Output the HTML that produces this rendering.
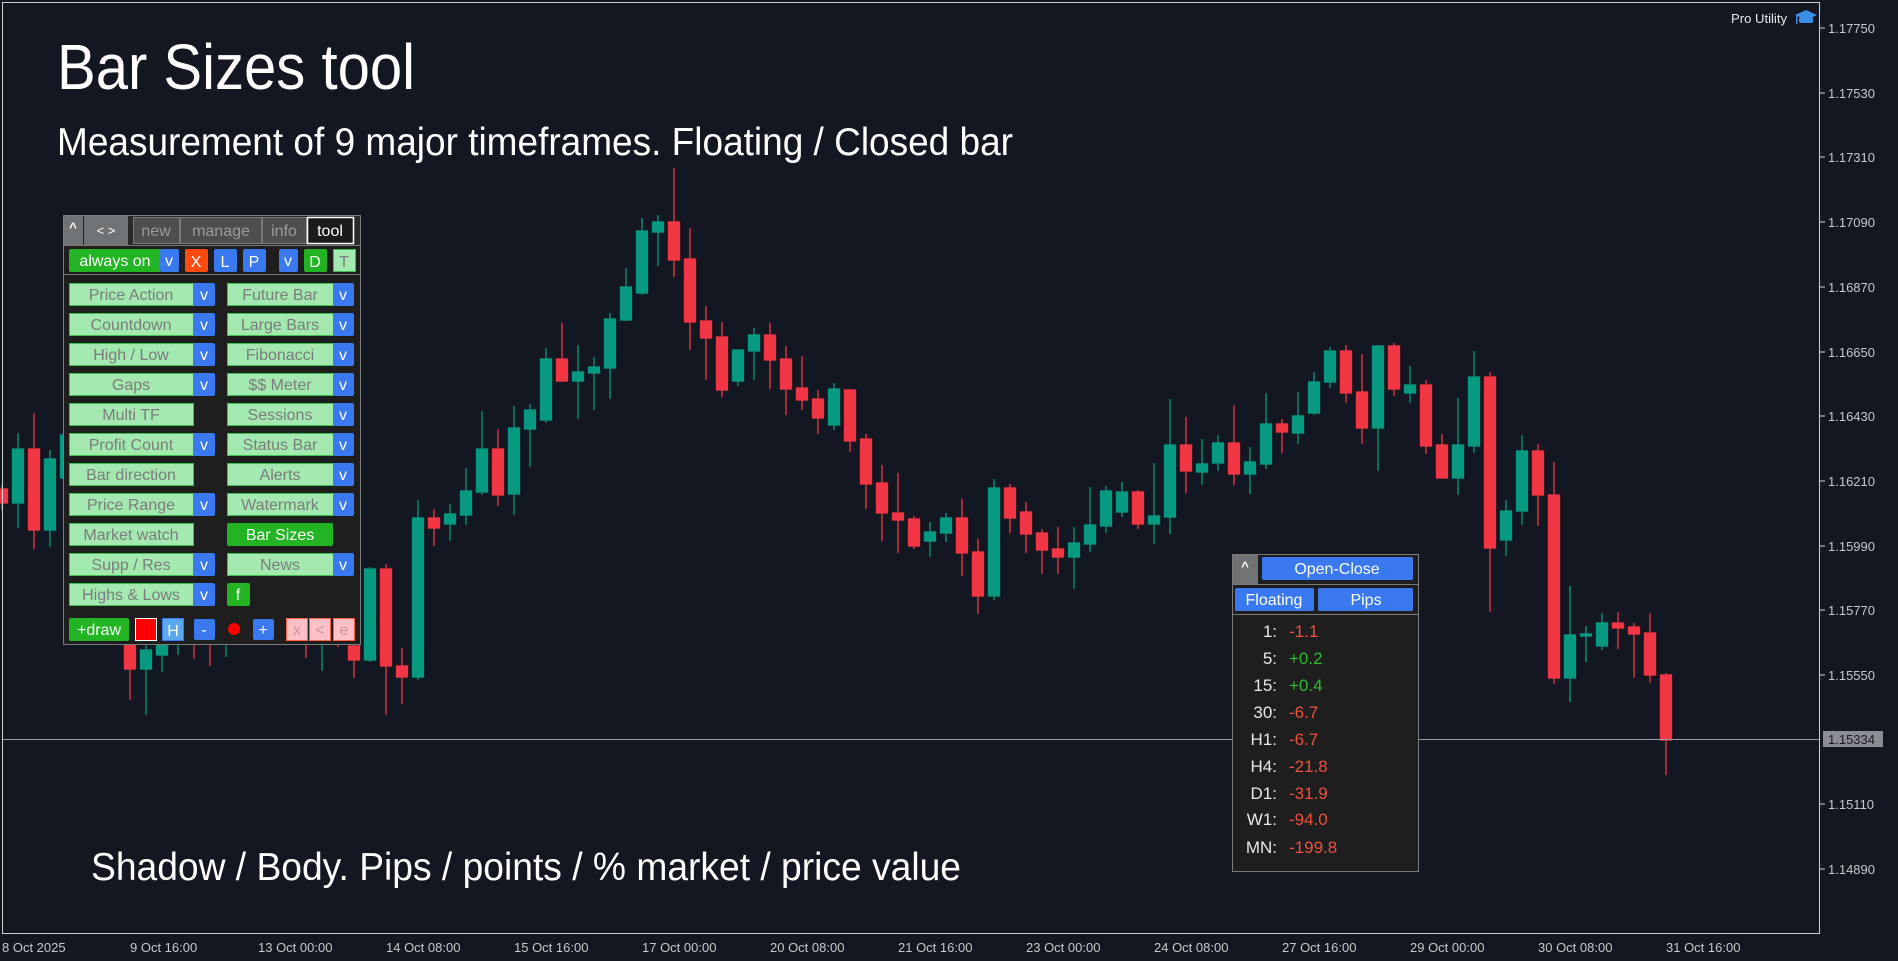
<!DOCTYPE html>
<html><head><meta charset="utf-8"><style>
html,body{margin:0;padding:0;background:#131722;overflow:hidden}
svg{display:block}
text{font-family:"Liberation Sans",sans-serif}
.g{fill:#089981;stroke:#089981}.r{fill:#f23645;stroke:#f23645}
.ax{fill:#c8c8c8;font-size:13px}
.bt{fill:#7c7c7c;font-size:16px;text-anchor:middle}
.wt{fill:#fff;font-size:16px;text-anchor:middle}
.lg{fill:#a3e9b0;stroke:#3cc04a;stroke-width:1}
.bl{fill:#3a78f0}
.lb{fill:#e8e8e8;font-size:17px;text-anchor:end}
.vr{fill:#f0503c;font-size:17px}.vg{fill:#2cbc2c;font-size:17px}
</style></head><body>
<svg width="1898" height="961" viewBox="0 0 1898 961" xmlns="http://www.w3.org/2000/svg">
<rect width="1898" height="961" fill="#131722"/>
<g stroke-width="1.3">
<line class="r" x1="2" y1="485" x2="2" y2="510"/><rect class="r" x="-3.5" y="489" width="11" height="14"/>
<line class="g" x1="18" y1="433" x2="18" y2="528"/><rect class="g" x="12.5" y="449" width="11" height="54"/>
<line class="r" x1="34" y1="413" x2="34" y2="549"/><rect class="r" x="28.5" y="449" width="11" height="81"/>
<line class="g" x1="50" y1="450" x2="50" y2="547"/><rect class="g" x="44.5" y="459" width="11" height="71"/>
<line class="g" x1="66" y1="425" x2="66" y2="490"/><rect class="g" x="60.5" y="435" width="11" height="43"/>
<line class="r" x1="82" y1="420" x2="82" y2="600"/><rect class="r" x="76.5" y="440" width="11" height="150"/>
<line class="g" x1="98" y1="560" x2="98" y2="640"/><rect class="g" x="92.5" y="570" width="11" height="60"/>
<line class="r" x1="114" y1="570" x2="114" y2="645"/><rect class="r" x="108.5" y="580" width="11" height="60"/>
<line class="r" x1="130" y1="600" x2="130" y2="700"/><rect class="r" x="124.5" y="620" width="11" height="49"/>
<line class="g" x1="146" y1="610" x2="146" y2="715"/><rect class="g" x="140.5" y="650" width="11" height="19"/>
<line class="g" x1="162" y1="620" x2="162" y2="672"/><rect class="g" x="156.5" y="630" width="11" height="25"/>
<line class="g" x1="178" y1="610" x2="178" y2="655"/><rect class="g" x="172.5" y="620" width="11" height="20"/>
<line class="r" x1="194" y1="600" x2="194" y2="659"/><rect class="r" x="188.5" y="610" width="11" height="25"/>
<line class="r" x1="210" y1="600" x2="210" y2="666"/><rect class="r" x="204.5" y="615" width="11" height="25"/>
<line class="g" x1="226" y1="600" x2="226" y2="657"/><rect class="g" x="220.5" y="610" width="11" height="30"/>
<line class="r" x1="242" y1="590" x2="242" y2="640"/><rect class="r" x="236.5" y="600" width="11" height="30"/>
<line class="g" x1="258" y1="590" x2="258" y2="640"/><rect class="g" x="252.5" y="600" width="11" height="25"/>
<line class="r" x1="274" y1="585" x2="274" y2="640"/><rect class="r" x="268.5" y="595" width="11" height="25"/>
<line class="g" x1="290" y1="580" x2="290" y2="640"/><rect class="g" x="284.5" y="590" width="11" height="25"/>
<line class="r" x1="306" y1="590" x2="306" y2="658"/><rect class="r" x="300.5" y="600" width="11" height="40"/>
<line class="g" x1="322" y1="580" x2="322" y2="671"/><rect class="g" x="316.5" y="595" width="11" height="45"/>
<line class="r" x1="338" y1="580" x2="338" y2="647"/><rect class="r" x="332.5" y="595" width="11" height="45"/>
<line class="r" x1="354" y1="600" x2="354" y2="678"/><rect class="r" x="348.5" y="646" width="11" height="14"/>
<line class="g" x1="370" y1="567" x2="370" y2="662"/><rect class="g" x="364.5" y="569" width="11" height="91"/>
<line class="r" x1="386" y1="564" x2="386" y2="715"/><rect class="r" x="380.5" y="569" width="11" height="97"/>
<line class="r" x1="402" y1="648" x2="402" y2="704"/><rect class="r" x="396.5" y="666" width="11" height="11"/>
<line class="g" x1="418" y1="500" x2="418" y2="680"/><rect class="g" x="412.5" y="518" width="11" height="159"/>
<line class="r" x1="434" y1="509" x2="434" y2="546"/><rect class="r" x="428.5" y="518" width="11" height="10"/>
<line class="g" x1="450" y1="504" x2="450" y2="541"/><rect class="g" x="444.5" y="514" width="11" height="10"/>
<line class="g" x1="466" y1="468" x2="466" y2="525"/><rect class="g" x="460.5" y="491" width="11" height="24"/>
<line class="g" x1="482" y1="411" x2="482" y2="495"/><rect class="g" x="476.5" y="449" width="11" height="43"/>
<line class="r" x1="498" y1="429" x2="498" y2="506"/><rect class="r" x="492.5" y="449" width="11" height="46"/>
<line class="g" x1="514" y1="406" x2="514" y2="515"/><rect class="g" x="508.5" y="428" width="11" height="66"/>
<line class="g" x1="530" y1="404" x2="530" y2="467"/><rect class="g" x="524.5" y="410" width="11" height="19"/>
<line class="g" x1="546" y1="348" x2="546" y2="423"/><rect class="g" x="540.5" y="359" width="11" height="61"/>
<line class="r" x1="562" y1="323" x2="562" y2="382"/><rect class="r" x="556.5" y="359" width="11" height="22"/>
<line class="g" x1="578" y1="345" x2="578" y2="419"/><rect class="g" x="572.5" y="372" width="11" height="9"/>
<line class="g" x1="594" y1="357" x2="594" y2="410"/><rect class="g" x="588.5" y="367" width="11" height="6"/>
<line class="g" x1="610" y1="313" x2="610" y2="399"/><rect class="g" x="604.5" y="319" width="11" height="49"/>
<line class="g" x1="626" y1="268" x2="626" y2="321"/><rect class="g" x="620.5" y="287" width="11" height="33"/>
<line class="g" x1="642" y1="218" x2="642" y2="295"/><rect class="g" x="636.5" y="231" width="11" height="62"/>
<line class="g" x1="658" y1="215" x2="658" y2="266"/><rect class="g" x="652.5" y="222" width="11" height="10"/>
<line class="r" x1="674" y1="168" x2="674" y2="277"/><rect class="r" x="668.5" y="222" width="11" height="38"/>
<line class="r" x1="690" y1="228" x2="690" y2="350"/><rect class="r" x="684.5" y="259" width="11" height="63"/>
<line class="r" x1="706" y1="306" x2="706" y2="380"/><rect class="r" x="700.5" y="321" width="11" height="17"/>
<line class="r" x1="722" y1="322" x2="722" y2="397"/><rect class="r" x="716.5" y="337" width="11" height="53"/>
<line class="g" x1="738" y1="350" x2="738" y2="386"/><rect class="g" x="732.5" y="350" width="11" height="31"/>
<line class="g" x1="754" y1="328" x2="754" y2="380"/><rect class="g" x="748.5" y="335" width="11" height="16"/>
<line class="r" x1="770" y1="323" x2="770" y2="389"/><rect class="r" x="764.5" y="335" width="11" height="25"/>
<line class="r" x1="786" y1="346" x2="786" y2="415"/><rect class="r" x="780.5" y="359" width="11" height="30"/>
<line class="r" x1="802" y1="356" x2="802" y2="410"/><rect class="r" x="796.5" y="388" width="11" height="12"/>
<line class="r" x1="818" y1="390" x2="818" y2="434"/><rect class="r" x="812.5" y="399" width="11" height="19"/>
<line class="g" x1="834" y1="383" x2="834" y2="430"/><rect class="g" x="828.5" y="389" width="11" height="36"/>
<line class="r" x1="850" y1="389" x2="850" y2="452"/><rect class="r" x="844.5" y="390" width="11" height="51"/>
<line class="r" x1="866" y1="434" x2="866" y2="509"/><rect class="r" x="860.5" y="439" width="11" height="45"/>
<line class="r" x1="882" y1="465" x2="882" y2="541"/><rect class="r" x="876.5" y="483" width="11" height="30"/>
<line class="r" x1="898" y1="473" x2="898" y2="553"/><rect class="r" x="892.5" y="513" width="11" height="7"/>
<line class="r" x1="914" y1="516" x2="914" y2="549"/><rect class="r" x="908.5" y="519" width="11" height="27"/>
<line class="g" x1="930" y1="522" x2="930" y2="557"/><rect class="g" x="924.5" y="532" width="11" height="9"/>
<line class="g" x1="946" y1="513" x2="946" y2="542"/><rect class="g" x="940.5" y="518" width="11" height="15"/>
<line class="r" x1="962" y1="499" x2="962" y2="576"/><rect class="r" x="956.5" y="518" width="11" height="35"/>
<line class="r" x1="978" y1="539" x2="978" y2="614"/><rect class="r" x="972.5" y="552" width="11" height="44"/>
<line class="g" x1="994" y1="479" x2="994" y2="600"/><rect class="g" x="988.5" y="488" width="11" height="108"/>
<line class="r" x1="1010" y1="484" x2="1010" y2="533"/><rect class="r" x="1004.5" y="488" width="11" height="30"/>
<line class="r" x1="1026" y1="502" x2="1026" y2="553"/><rect class="r" x="1020.5" y="512" width="11" height="22"/>
<line class="r" x1="1042" y1="529" x2="1042" y2="574"/><rect class="r" x="1036.5" y="533" width="11" height="17"/>
<line class="r" x1="1058" y1="527" x2="1058" y2="574"/><rect class="r" x="1052.5" y="549" width="11" height="8"/>
<line class="g" x1="1074" y1="527" x2="1074" y2="589"/><rect class="g" x="1068.5" y="543" width="11" height="14"/>
<line class="g" x1="1090" y1="487" x2="1090" y2="552"/><rect class="g" x="1084.5" y="525" width="11" height="19"/>
<line class="g" x1="1106" y1="486" x2="1106" y2="533"/><rect class="g" x="1100.5" y="491" width="11" height="35"/>
<line class="g" x1="1122" y1="482" x2="1122" y2="517"/><rect class="g" x="1116.5" y="492" width="11" height="20"/>
<line class="r" x1="1138" y1="490" x2="1138" y2="529"/><rect class="r" x="1132.5" y="492" width="11" height="32"/>
<line class="g" x1="1154" y1="463" x2="1154" y2="544"/><rect class="g" x="1148.5" y="516" width="11" height="8"/>
<line class="g" x1="1170" y1="399" x2="1170" y2="534"/><rect class="g" x="1164.5" y="445" width="11" height="72"/>
<line class="r" x1="1186" y1="417" x2="1186" y2="493"/><rect class="r" x="1180.5" y="445" width="11" height="26"/>
<line class="g" x1="1202" y1="439" x2="1202" y2="485"/><rect class="g" x="1196.5" y="464" width="11" height="8"/>
<line class="g" x1="1218" y1="435" x2="1218" y2="471"/><rect class="g" x="1212.5" y="443" width="11" height="20"/>
<line class="r" x1="1234" y1="405" x2="1234" y2="485"/><rect class="r" x="1228.5" y="443" width="11" height="31"/>
<line class="g" x1="1250" y1="447" x2="1250" y2="494"/><rect class="g" x="1244.5" y="462" width="11" height="12"/>
<line class="g" x1="1266" y1="393" x2="1266" y2="469"/><rect class="g" x="1260.5" y="424" width="11" height="40"/>
<line class="r" x1="1282" y1="419" x2="1282" y2="453"/><rect class="r" x="1276.5" y="424" width="11" height="8"/>
<line class="g" x1="1298" y1="392" x2="1298" y2="444"/><rect class="g" x="1292.5" y="416" width="11" height="17"/>
<line class="g" x1="1314" y1="372" x2="1314" y2="415"/><rect class="g" x="1308.5" y="382" width="11" height="31"/>
<line class="g" x1="1330" y1="347" x2="1330" y2="388"/><rect class="g" x="1324.5" y="351" width="11" height="31"/>
<line class="r" x1="1346" y1="345" x2="1346" y2="403"/><rect class="r" x="1340.5" y="351" width="11" height="42"/>
<line class="r" x1="1362" y1="354" x2="1362" y2="444"/><rect class="r" x="1356.5" y="392" width="11" height="36"/>
<line class="g" x1="1378" y1="345" x2="1378" y2="471"/><rect class="g" x="1372.5" y="346" width="11" height="82"/>
<line class="r" x1="1394" y1="343" x2="1394" y2="396"/><rect class="r" x="1388.5" y="346" width="11" height="43"/>
<line class="g" x1="1410" y1="366" x2="1410" y2="403"/><rect class="g" x="1404.5" y="385" width="11" height="8"/>
<line class="r" x1="1426" y1="380" x2="1426" y2="454"/><rect class="r" x="1420.5" y="385" width="11" height="61"/>
<line class="r" x1="1442" y1="434" x2="1442" y2="478"/><rect class="r" x="1436.5" y="445" width="11" height="33"/>
<line class="g" x1="1458" y1="398" x2="1458" y2="495"/><rect class="g" x="1452.5" y="445" width="11" height="33"/>
<line class="g" x1="1474" y1="351" x2="1474" y2="453"/><rect class="g" x="1468.5" y="377" width="11" height="69"/>
<line class="r" x1="1490" y1="372" x2="1490" y2="612"/><rect class="r" x="1484.5" y="377" width="11" height="171"/>
<line class="g" x1="1506" y1="500" x2="1506" y2="556"/><rect class="g" x="1500.5" y="511" width="11" height="29"/>
<line class="g" x1="1522" y1="435" x2="1522" y2="525"/><rect class="g" x="1516.5" y="451" width="11" height="60"/>
<line class="r" x1="1538" y1="444" x2="1538" y2="526"/><rect class="r" x="1532.5" y="451" width="11" height="44"/>
<line class="r" x1="1554" y1="462" x2="1554" y2="684"/><rect class="r" x="1548.5" y="495" width="11" height="183"/>
<line class="g" x1="1570" y1="586" x2="1570" y2="702"/><rect class="g" x="1564.5" y="635" width="11" height="43"/>
<line class="g" x1="1586" y1="626" x2="1586" y2="662"/><rect class="g" x="1580.5" y="634" width="11" height="2"/>
<line class="g" x1="1602" y1="613" x2="1602" y2="650"/><rect class="g" x="1596.5" y="623" width="11" height="23"/>
<line class="r" x1="1618" y1="612" x2="1618" y2="649"/><rect class="r" x="1612.5" y="623" width="11" height="5"/>
<line class="r" x1="1634" y1="623" x2="1634" y2="678"/><rect class="r" x="1628.5" y="627" width="11" height="7"/>
<line class="r" x1="1650" y1="613" x2="1650" y2="683"/><rect class="r" x="1644.5" y="633" width="11" height="42"/>
<line class="r" x1="1666" y1="673" x2="1666" y2="775"/><rect class="r" x="1660.5" y="675" width="11" height="65"/>
</g>
<line x1="2" y1="739.5" x2="1820" y2="739.5" stroke="#9a9ca4" stroke-width="1"/>
<rect x="2.5" y="2.5" width="1817" height="931" fill="none" stroke="#d0d0d0" stroke-width="1"/>
<g stroke="#d0d0d0">
<line x1="1820" y1="28" x2="1825" y2="28"/><line x1="1820" y1="93" x2="1825" y2="93"/><line x1="1820" y1="157" x2="1825" y2="157"/><line x1="1820" y1="222" x2="1825" y2="222"/><line x1="1820" y1="287" x2="1825" y2="287"/><line x1="1820" y1="352" x2="1825" y2="352"/><line x1="1820" y1="416" x2="1825" y2="416"/><line x1="1820" y1="481" x2="1825" y2="481"/><line x1="1820" y1="546" x2="1825" y2="546"/><line x1="1820" y1="610" x2="1825" y2="610"/><line x1="1820" y1="675" x2="1825" y2="675"/><line x1="1820" y1="804" x2="1825" y2="804"/><line x1="1820" y1="869" x2="1825" y2="869"/>
</g>
<g class="ax">
<text x="1828" y="33">1.17750</text><text x="1828" y="98">1.17530</text><text x="1828" y="162">1.17310</text><text x="1828" y="227">1.17090</text><text x="1828" y="292">1.16870</text><text x="1828" y="357">1.16650</text><text x="1828" y="421">1.16430</text><text x="1828" y="486">1.16210</text><text x="1828" y="551">1.15990</text><text x="1828" y="615">1.15770</text><text x="1828" y="680">1.15550</text><text x="1828" y="809">1.15110</text><text x="1828" y="874">1.14890</text>
</g>
<rect x="1823" y="731" width="60" height="16" fill="#8a8d96"/>
<text x="1828" y="744" font-size="13" fill="#1a1a1a">1.15334</text>
<g class="ax">
<text x="2" y="952">8 Oct 2025</text><text x="130" y="952">9 Oct 16:00</text><text x="258" y="952">13 Oct 00:00</text><text x="386" y="952">14 Oct 08:00</text><text x="514" y="952">15 Oct 16:00</text><text x="642" y="952">17 Oct 00:00</text><text x="770" y="952">20 Oct 08:00</text><text x="898" y="952">21 Oct 16:00</text><text x="1026" y="952">23 Oct 00:00</text><text x="1154" y="952">24 Oct 08:00</text><text x="1282" y="952">27 Oct 16:00</text><text x="1410" y="952">29 Oct 00:00</text><text x="1538" y="952">30 Oct 08:00</text><text x="1666" y="952">31 Oct 16:00</text>
</g>
<text x="57" y="89" font-size="64" fill="#fff" textLength="358" lengthAdjust="spacingAndGlyphs">Bar Sizes tool</text>
<text x="57" y="155" font-size="39" fill="#fff" textLength="956" lengthAdjust="spacingAndGlyphs">Measurement of 9 major timeframes. Floating / Closed bar</text>
<text x="91" y="880" font-size="39" fill="#fff" textLength="870" lengthAdjust="spacingAndGlyphs">Shadow / Body.  Pips / points / % market / price value</text>
<text x="1731" y="23" font-size="13" fill="#e8e8e8" textLength="56" lengthAdjust="spacingAndGlyphs">Pro Utility</text>
<g fill="#3a8ee8"><polygon points="1795,15 1806,10 1817,15 1806,20"/><rect x="1799" y="17" width="14" height="6" rx="2"/><rect x="1796" y="15" width="1.5" height="9"/></g>
<rect x="63.5" y="215.5" width="297" height="429" fill="#1e1e1f" stroke="#7a7a7a"/>
<rect x="64" y="216" width="19" height="29" fill="#707376"/>
<rect x="84" y="216" width="44" height="29" fill="#707376"/>
<text x="73" y="232" fill="#fff" font-size="13" text-anchor="middle" font-weight="bold">^</text>
<text x="106" y="235" fill="#fff" font-size="13" text-anchor="middle">&lt; &gt;</text>
<rect x="128" y="216" width="232" height="29" fill="#2a2a2a"/>
<g fill="#504e4c" stroke="#7a7a7a"><rect x="133.5" y="217.5" width="46" height="26"/><rect x="180.5" y="217.5" width="81" height="26"/><rect x="262.5" y="217.5" width="44" height="26"/></g>
<rect x="307.5" y="217.5" width="46" height="26" fill="#1c1a1a" stroke="#fff" stroke-width="1.5"/>
<g font-size="16" text-anchor="middle"><text x="156" y="236" fill="#9a9a9a">new</text><text x="221" y="236" fill="#9a9a9a">manage</text><text x="284" y="236" fill="#9a9a9a">info</text><text x="330" y="236" fill="#fff">tool</text></g>
<line x1="64" y1="245.5" x2="360" y2="245.5" stroke="#7a7a7a"/>
<rect x="69" y="249" width="92" height="23" fill="#22b422" rx="2"/><text class="wt" x="115" y="266">always on</text>
<rect x="160" y="249" width="19" height="23" class="bl" rx="2"/><text class="wt" x="169" y="266">v</text>
<rect x="185" y="249" width="23" height="23" fill="#ff4a12" rx="2"/><text class="wt" x="196" y="267">X</text>
<rect x="214" y="249" width="23" height="23" class="bl" rx="2"/><text class="wt" x="225" y="267">L</text>
<rect x="243" y="249" width="23" height="23" class="bl" rx="2"/><text class="wt" x="254" y="267">P</text>
<rect x="279" y="249" width="19" height="23" class="bl" rx="2"/><text class="wt" x="288" y="266">v</text>
<rect x="304" y="249" width="23" height="23" fill="#22b422" rx="2"/><text class="wt" x="315" y="267">D</text>
<rect x="333.5" y="249.5" width="22" height="22" class="lg"/><text class="bt" x="344" y="267">T</text>
<line x1="64" y1="274.5" x2="360" y2="274.5" stroke="#7a7a7a"/>
<g>
<rect class="lg" x="69.5" y="283.5" width="124" height="22"/><rect class="bl" x="193" y="283" width="22" height="23" rx="2"/><text class="bt" x="131" y="300">Price Action</text><text class="wt" x="204" y="300">v</text>
<rect class="lg" x="227.5" y="283.5" width="106" height="22"/><rect class="bl" x="333" y="283" width="21" height="23" rx="2"/><text class="bt" x="280" y="300">Future Bar</text><text class="wt" x="343" y="300">v</text>
<rect class="lg" x="69.5" y="313.5" width="124" height="22"/><rect class="bl" x="193" y="313" width="22" height="23" rx="2"/><text class="bt" x="131" y="330">Countdown</text><text class="wt" x="204" y="330">v</text>
<rect class="lg" x="227.5" y="313.5" width="106" height="22"/><rect class="bl" x="333" y="313" width="21" height="23" rx="2"/><text class="bt" x="280" y="330">Large Bars</text><text class="wt" x="343" y="330">v</text>
<rect class="lg" x="69.5" y="343.5" width="124" height="22"/><rect class="bl" x="193" y="343" width="22" height="23" rx="2"/><text class="bt" x="131" y="360">High / Low</text><text class="wt" x="204" y="360">v</text>
<rect class="lg" x="227.5" y="343.5" width="106" height="22"/><rect class="bl" x="333" y="343" width="21" height="23" rx="2"/><text class="bt" x="280" y="360">Fibonacci</text><text class="wt" x="343" y="360">v</text>
<rect class="lg" x="69.5" y="373.5" width="124" height="22"/><rect class="bl" x="193" y="373" width="22" height="23" rx="2"/><text class="bt" x="131" y="390">Gaps</text><text class="wt" x="204" y="390">v</text>
<rect class="lg" x="227.5" y="373.5" width="106" height="22"/><rect class="bl" x="333" y="373" width="21" height="23" rx="2"/><text class="bt" x="280" y="390">$$ Meter</text><text class="wt" x="343" y="390">v</text>
<rect class="lg" x="69.5" y="403.5" width="124" height="22"/><text class="bt" x="131" y="420">Multi TF</text>
<rect class="lg" x="227.5" y="403.5" width="106" height="22"/><rect class="bl" x="333" y="403" width="21" height="23" rx="2"/><text class="bt" x="280" y="420">Sessions</text><text class="wt" x="343" y="420">v</text>
<rect class="lg" x="69.5" y="433.5" width="124" height="22"/><rect class="bl" x="193" y="433" width="22" height="23" rx="2"/><text class="bt" x="131" y="450">Profit Count</text><text class="wt" x="204" y="450">v</text>
<rect class="lg" x="227.5" y="433.5" width="106" height="22"/><rect class="bl" x="333" y="433" width="21" height="23" rx="2"/><text class="bt" x="280" y="450">Status Bar</text><text class="wt" x="343" y="450">v</text>
<rect class="lg" x="69.5" y="463.5" width="124" height="22"/><text class="bt" x="131" y="480">Bar direction</text>
<rect class="lg" x="227.5" y="463.5" width="106" height="22"/><rect class="bl" x="333" y="463" width="21" height="23" rx="2"/><text class="bt" x="280" y="480">Alerts</text><text class="wt" x="343" y="480">v</text>
<rect class="lg" x="69.5" y="493.5" width="124" height="22"/><rect class="bl" x="193" y="493" width="22" height="23" rx="2"/><text class="bt" x="131" y="510">Price Range</text><text class="wt" x="204" y="510">v</text>
<rect class="lg" x="227.5" y="493.5" width="106" height="22"/><rect class="bl" x="333" y="493" width="21" height="23" rx="2"/><text class="bt" x="280" y="510">Watermark</text><text class="wt" x="343" y="510">v</text>
<rect class="lg" x="69.5" y="523.5" width="124" height="22"/><text class="bt" x="131" y="540">Market watch</text>
<rect x="227" y="523" width="106" height="23" fill="#22b422" rx="2"/><text class="wt" x="280" y="540">Bar Sizes</text>
<rect class="lg" x="69.5" y="553.5" width="124" height="22"/><rect class="bl" x="193" y="553" width="22" height="23" rx="2"/><text class="bt" x="131" y="570">Supp / Res</text><text class="wt" x="204" y="570">v</text>
<rect class="lg" x="227.5" y="553.5" width="106" height="22"/><rect class="bl" x="333" y="553" width="21" height="23" rx="2"/><text class="bt" x="280" y="570">News</text><text class="wt" x="343" y="570">v</text>
<rect class="lg" x="69.5" y="583.5" width="124" height="22"/><rect class="bl" x="193" y="583" width="22" height="23" rx="2"/><text class="bt" x="131" y="600">Highs &amp; Lows</text><text class="wt" x="204" y="600">v</text>
<rect x="227" y="583" width="23" height="23" fill="#22b422" rx="2"/><text class="wt" x="238" y="600">f</text>
</g>
<rect x="69" y="618" width="60" height="23" fill="#22b422" rx="2"/><text class="wt" x="99" y="635">+draw</text>
<rect x="135.5" y="618.5" width="21" height="22" fill="#ff0000" stroke="#fff"/>
<rect x="162.5" y="618.5" width="21" height="22" fill="#5aa8f0" stroke="#3a78f0"/><text class="wt" x="173" y="636">H</text>
<rect class="bl" x="194" y="619" width="21" height="21" rx="2"/><text class="wt" x="204" y="635">-</text>
<circle cx="234" cy="629" r="6" fill="#ff0000"/>
<rect class="bl" x="253" y="619" width="21" height="21" rx="2"/><text class="wt" x="263" y="635">+</text>
<g fill="#ffc0c8" stroke="#ff6040"><rect x="286.5" y="618.5" width="21" height="22"/><rect x="309.5" y="618.5" width="21" height="22"/><rect x="333.5" y="618.5" width="21" height="22"/></g>
<g fill="#c89a9a" font-size="16" text-anchor="middle"><text x="297" y="635">x</text><text x="320" y="635">&lt;</text><text x="344" y="635">e</text></g>
<rect x="1232.5" y="554.5" width="186" height="317" fill="#1e1e1f" stroke="#7a7a7a"/>
<rect x="1233" y="555" width="25" height="29" fill="#707376"/>
<text x="1245" y="571" fill="#fff" font-size="13" text-anchor="middle" font-weight="bold">^</text>
<rect class="bl" x="1262" y="557" width="151" height="23" rx="2"/><text class="wt" x="1337" y="574">Open-Close</text>
<line x1="1233" y1="584.5" x2="1418" y2="584.5" stroke="#7a7a7a"/>
<rect class="bl" x="1235" y="588" width="79" height="23" rx="2"/><text class="wt" x="1274" y="605">Floating</text>
<rect class="bl" x="1318" y="588" width="95" height="23" rx="2"/><text class="wt" x="1366" y="605">Pips</text>
<line x1="1233" y1="614.5" x2="1418" y2="614.5" stroke="#7a7a7a"/>
<g class="lb"><text x="1277" y="637">1:</text><text x="1277" y="664">5:</text><text x="1277" y="691">15:</text><text x="1277" y="718">30:</text><text x="1277" y="745">H1:</text><text x="1277" y="772">H4:</text><text x="1277" y="799">D1:</text><text x="1277" y="825">W1:</text><text x="1277" y="853">MN:</text></g>
<text class="vr" x="1289" y="637">-1.1</text><text class="vg" x="1289" y="664">+0.2</text><text class="vg" x="1289" y="691">+0.4</text><text class="vr" x="1289" y="718">-6.7</text><text class="vr" x="1289" y="745">-6.7</text><text class="vr" x="1289" y="772">-21.8</text><text class="vr" x="1289" y="799">-31.9</text><text class="vr" x="1289" y="825">-94.0</text><text class="vr" x="1289" y="853">-199.8</text>
</svg>
</body></html>
